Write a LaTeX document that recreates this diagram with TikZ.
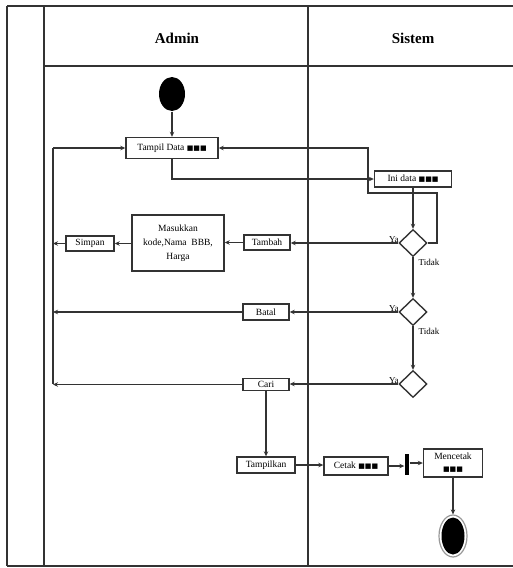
\documentclass[tikz,border=0pt]{standalone}
\usepackage{fontspec}
\setmainfont{Liberation Serif}
\newfontfamily\symfont{DejaVu Sans}
\usetikzlibrary{shapes.geometric,arrows.meta}
\newcommand{\blk}{{\symfont\fontsize{7}{7}\selectfont ■■■}}
\begin{document}
\begin{tikzpicture}[x=1pt,y=-1pt,
  line width=1.4pt, draw=black!80,
  lane/.style={line width=1.5pt, draw=black!80},
  act/.style={draw=black!80, line width=1.4pt, rectangle, inner sep=0pt, align=center,
    font=\fontsize{9.5}{14}\selectfont},
  dec/.style={draw=black!80, line width=1.4pt, diamond, inner sep=0pt,
    minimum width=28pt, minimum height=27pt},
  lbl/.style={font=\fontsize{9}{10}\selectfont, inner sep=0pt},
  flow/.style={-{Stealth[length=5pt,width=4.5pt]}, line width=1.4pt, draw=black!80},
  head/.style={font=\bfseries\fontsize{15}{16}\selectfont}
]
\useasboundingbox (0,0) rectangle (513,568);
% swimlanes
\draw[lane] (7,6) -- (513,6);
\draw[lane] (44,66) -- (513,66);
\draw[lane] (7,566) -- (513,566);
\draw[lane] (7,6) -- (7,566);
\draw[lane] (44,6) -- (44,566);
\draw[lane] (308,6) -- (308,566);
\node[head] (hA) at (177,38) {Admin};
\node[head] (hS) at (413,38) {Sistem};
% nodes
\node[fill=black, ellipse, minimum width=26pt, minimum height=34pt, inner sep=0pt] (start) at (172,94) {};
\node[act, minimum width=92pt, minimum height=21pt] (tampil) at (172,148) {Tampil Data \blk};
\node[act, minimum width=77pt, minimum height=16pt] (ini) at (413,179) {Ini data \blk};
\node[dec] (d1) at (413,243) {};
\node[act, minimum width=46pt, minimum height=15pt] (tambah) at (267,242.5) {Tambah};
\node[act, minimum width=92pt, minimum height=56pt] (masuk) at (178,243) {Masukkan\\kode,Nama\ \ BBB,\\Harga};
\node[act, minimum width=48pt, minimum height=15pt] (simpan) at (90,243.5) {Simpan};
\node[dec] (d2) at (413,312) {};
\node[act, minimum width=46pt, minimum height=16pt] (batal) at (266,312) {Batal};
\node[dec] (d3) at (413,384) {};
\node[act, minimum width=46pt, minimum height=12pt] (cari) at (266,384.5) {Cari};
\node[act, minimum width=58pt, minimum height=16pt] (tampilkan) at (266,465) {Tampilkan};
\node[act, minimum width=64pt, minimum height=18pt] (cetak) at (356,466) {Cetak \blk};
\node[fill=black, rectangle, minimum width=4pt, minimum height=21pt, inner sep=0pt] (bar) at (407,464.5) {};
\node[act, minimum width=59pt, minimum height=28pt, font=\fontsize{9.5}{12}\selectfont] (mencetak) at (453,463) {Mencetak\\\blk};
\node[draw=black!40, line width=1.2pt, ellipse, minimum width=28pt, minimum height=42pt, inner sep=0pt] (endo) at (453,536) {};
\node[fill=black, ellipse, minimum width=23pt, minimum height=37pt, inner sep=0pt] (endi) at (453,536) {};
% labels
\node[lbl, anchor=south east] (ya1) at ([xshift=1pt]d1.west) {Ya};
\node[lbl, anchor=north west] (t1) at ([xshift=5pt,yshift=-1pt]d1.south) {Tidak};
\node[lbl, anchor=south east] (ya2) at ([xshift=1pt]d2.west) {Ya};
\node[lbl, anchor=north west] (t2) at ([xshift=5pt,yshift=-1pt]d2.south) {Tidak};
\node[lbl, anchor=south east] (ya3) at ([xshift=1pt]d3.west) {Ya};
% coordinates
\coordinate (lt) at (53,148);
\coordinate (lb) at (53,384);
\coordinate (c1) at (172,179);
\coordinate (r1) at (437,243);
\coordinate (r2) at (437,193);
\coordinate (r3) at (368,193);
\coordinate (r4) at (368,148);
% connectors
\draw[flow] (start) -- (tampil);
\draw (lb) -- (lt);
\draw[flow] (lt) -- (tampil.west);
\draw[flow] (tampil.south) -- (c1) -- (ini.west |- c1);
\draw[flow] (ini.south) -- (d1.north);
\draw[flow] (d1.east) -- (r1) -- (r2) -- (r3) -- (r4) -- (tampil.east);
\draw[flow] (d1.west) -- (tambah.east |- d1.west);
\draw[flow] (tambah.west) -- (masuk.east |- tambah.west);
\draw[flow] (masuk.west |- simpan.east) -- (simpan.east);
\draw[flow] (simpan.west) -- (simpan.west -| lt);
\draw[flow] (d1.south) -- (d2.north);
\draw[flow] (d2.west) -- (batal.east);
\draw[flow] (batal.west) -- (batal.west -| lt);
\draw[flow] (d2.south) -- (d3.north);
\draw[flow] (d3.west) -- (cari.east |- d3.west);
\draw[flow] (cari.west) -- (cari.west -| lt);
\draw[flow] (cari.south) -- (tampilkan.north);
\draw[flow] (tampilkan.east) -- (cetak.west |- tampilkan.east);
\draw[flow] (cetak.east) -- (bar.west |- cetak.east);
\draw[flow] (bar.east |- mencetak.west) -- (mencetak.west);
\draw[flow] (mencetak.south) -- (endo.north);
\end{tikzpicture}
\end{document}
